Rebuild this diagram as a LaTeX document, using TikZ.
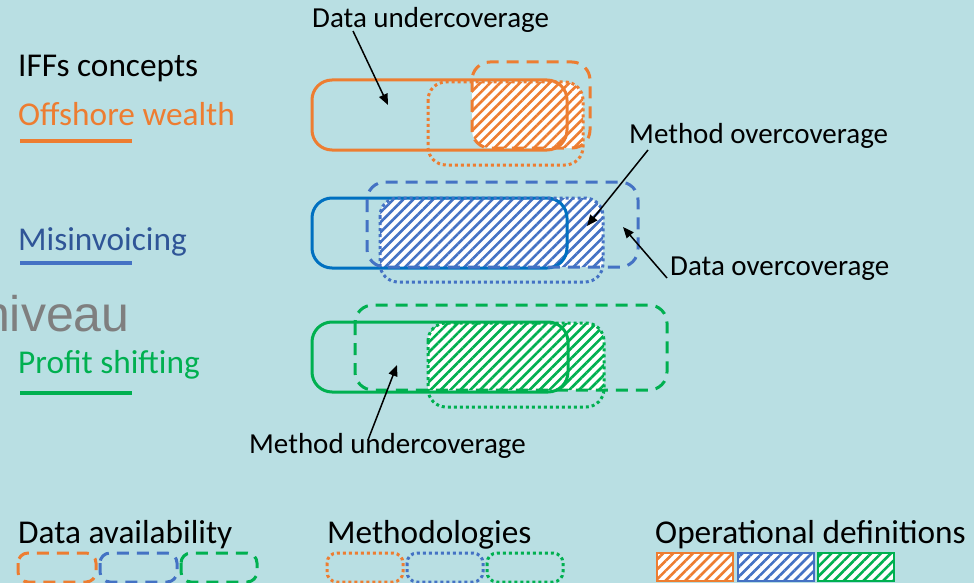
\documentclass[tikz,border=0pt]{standalone}
\usepackage{fontspec}
\setmainfont{Carlito}
\newfontfamily\arialf{Liberation Sans}
\usetikzlibrary{patterns.meta,arrows.meta}
\definecolor{bg}{HTML}{B9DFE3}
\definecolor{cor}{HTML}{ED7D31}
\definecolor{cbl}{HTML}{4472C4}
\definecolor{cbs}{HTML}{0070C0}
\definecolor{cbt}{HTML}{2F5597}
\definecolor{cgr}{HTML}{00B050}
\definecolor{cgy}{HTML}{7F7F7F}
\tikzset{
  solidbox/.style={line width=3pt, rounded corners=20pt},
  dashbox/.style={line width=3pt, rounded corners=18pt, dash pattern=on 12pt off 8pt},
  dotbox/.style={line width=3pt, rounded corners=18pt, dash pattern=on 3pt off 3pt},
  hatchfill/.style={pattern={Lines[angle=45,distance=7pt,line width=2.6pt]}, pattern color=#1},
  ann/.style={anchor=base west, inner sep=0pt, font=\fontsize{29}{34}\selectfont},
  big/.style={anchor=base west, inner sep=0pt, font=\fontsize{33.3}{40}\selectfont},
  arr/.style={line width=1.5pt, -{Triangle[length=11pt,width=9pt]}},
  uline/.style={line width=4pt}
}
\begin{document}
\begin{tikzpicture}[x=1pt,y=-1pt]
\useasboundingbox (0,0) rectangle (974,583);
\clip (0,0) rectangle (974,583);
\fill[bg] (0,0) rectangle (974,583);

% left labels
\node[big] (iffs) at (18,77) {IFFs concepts};
\node[big, text=cor] (ow) at (18,125) {Offshore wealth};
\draw[uline, cor] (20,141) -- (132,141);
\node[big, text=cbt] (mi) at (18,250) {Misinvoicing};
\draw[uline, cbl] (20,263) -- (132,263);
\node[anchor=base west, inner sep=0pt, text=cgy, font=\arialf\fontsize{50}{54}\selectfont] (niv) at (-18,331) {niveau};
\node[big, text=cgr] (ps) at (18,373) {Profit shifting};
\draw[uline, cgr] (20,393) -- (132,393);

% orange row
\begin{scope}
  \clip[rounded corners=18pt] (472,62) rectangle (590,148);
  \fill[white, rounded corners=18pt] (428,82) rectangle (583,165);
  \fill[hatchfill=cor, rounded corners=18pt] (428,82) rectangle (583,165);
\end{scope}
\draw[solidbox, cor] (312,80) rectangle (567,150);
\draw[dashbox, cor] (472,62) rectangle (590,148);
\draw[dotbox, cor] (428,82) rectangle (583,165);

% blue row
\begin{scope}
  \clip[rounded corners=18pt] (367,182) rectangle (638,267);
  \fill[white, rounded corners=18pt] (380,198) rectangle (603,282);
  \fill[hatchfill=cbl, rounded corners=18pt] (380,198) rectangle (603,282);
\end{scope}
\draw[solidbox, cbs] (312,198) rectangle (567,268);
\draw[dashbox, cbl] (367,182) rectangle (638,267);
\draw[dotbox, cbl] (380,198) rectangle (603,282);

% green row
\begin{scope}
  \clip[rounded corners=18pt] (355,305) rectangle (667,390);
  \fill[white, rounded corners=18pt] (428,323) rectangle (604,407);
  \fill[hatchfill=cgr, rounded corners=18pt] (428,323) rectangle (604,407);
\end{scope}
\draw[solidbox, cgr] (312,322) rectangle (568,392);
\draw[dashbox, cgr] (355,305) rectangle (667,390);
\draw[dotbox, cgr] (428,323) rectangle (604,407);

% annotations
\node[ann] (du) at (312,28) {Data undercoverage};
\node[ann] (mo) at (629,143) {Method overcoverage};
\node[ann] (do) at (670,275) {Data overcoverage};
\node[ann] (mu) at (249,453) {Method undercoverage};
\coordinate (duS) at (353,31);
\coordinate (duE) at (388,105);
\coordinate (moS) at (648,150);
\coordinate (moE) at (587,226);
\coordinate (doS) at (667,278);
\coordinate (doE) at (623,227);
\coordinate (muS) at (368,440);
\coordinate (muE) at (397,365);
\draw[arr] (duS) -- (duE);
\draw[arr] (moS) -- (moE);
\draw[arr] (doS) -- (doE);
\draw[arr] (muS) -- (muE);

% legend
\node[big] (lda) at (18,543) {Data availability};
\node[big] (lme) at (327,543) {Methodologies};
\node[big] (lod) at (655,543) {Operational definitions};
\draw[dashbox, cor, rounded corners=10pt] (18,553) rectangle (96,582);
\draw[dashbox, cbl, rounded corners=10pt] (100,553) rectangle (177,582);
\draw[dashbox, cgr, rounded corners=10pt] (181,553) rectangle (257,582);
\draw[dotbox, cor, rounded corners=10pt] (327,553) rectangle (403,582);
\draw[dotbox, cbl, rounded corners=10pt] (407,553) rectangle (483,582);
\draw[dotbox, cgr, rounded corners=10pt] (487,553) rectangle (563,582);
\foreach \xa/\xb/\cc in {657/733/cor, 738/814/cbl, 818/894/cgr}{
  \fill[white] (\xa,553) rectangle (\xb,581);
  \fill[hatchfill=\cc] (\xa,553) rectangle (\xb,581);
  \draw[\cc, line width=1.5pt] (\xa,553) rectangle (\xb,581);
}
\end{tikzpicture}
\end{document}
